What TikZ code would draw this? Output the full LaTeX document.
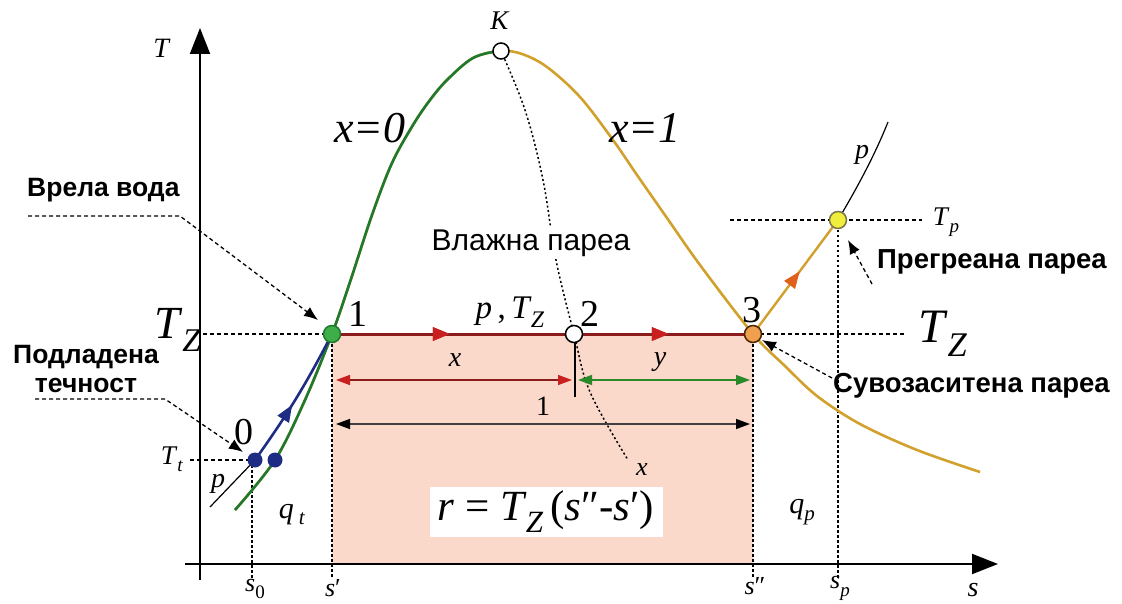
\documentclass[tikz,border=0pt]{standalone}
\usepackage{fontspec}
\setmainfont{Liberation Serif}
\newfontfamily\sansf{Liberation Sans}
\usetikzlibrary{arrows.meta,decorations.markings}
\definecolor{cgreen}{HTML}{1F7A30}
\definecolor{cgold}{HTML}{D2A02C}
\definecolor{cdred}{HTML}{8A1C1C}
\definecolor{cred}{HTML}{C82020}
\definecolor{cshade}{HTML}{FAD8CA}
\definecolor{cblue}{HTML}{1E2C84}
\definecolor{cygreen}{HTML}{2A8A2A}
\definecolor{cptgreen}{HTML}{3DAE48}
\definecolor{cptorange}{HTML}{EFA04E}
\definecolor{cptyellow}{HTML}{F0EE3C}
\definecolor{corange}{HTML}{E0601E}
\definecolor{cgray}{HTML}{404040}
\newcommand{\myfs}[1]{\fontsize{#1}{#1}\selectfont}
\newcommand{\TZ}{\textit{T}\kern-0.02em\raisebox{-0.28em}{\scalebox{0.72}{\textit{Z}}}}
\begin{document}
\begin{tikzpicture}[x=1pt,y=-1pt,
  axisline/.style={line width=2pt,-{Triangle[length=26pt,width=20pt]}},
  dotline/.style={line width=1.6pt,dash pattern=on 2.5pt off 2.5pt},
  dashline/.style={line width=1.4pt,dash pattern=on 4pt off 3pt},
  leader/.style={line width=1.3pt,dash pattern=on 4pt off 3pt,-{Latex[length=14pt,width=11pt]}},
  satline/.style={line width=2.6pt},
  pt/.style={circle,minimum size=17pt,inner sep=0pt,line width=1.5pt},
  lab/.style={inner sep=0pt},
  sanslab/.style={inner sep=0pt,font=\sansf\bfseries\myfs{26.5}},
  midarrow/.style 2 args={postaction={decorate},decoration={markings,
     mark=at position #1 with {\arrow{Triangle[length=17pt,width=13pt,color=#2]}}}},
  dim/.style={line width=1.5pt}
]
\useasboundingbox (0,0) rectangle (1122,604);
% key coordinates
\coordinate (c0) at (255,460);
\coordinate (c0b) at (275,460);
\coordinate (c1) at (332,334);
\coordinate (c2) at (574,334);
\coordinate (c3) at (753,334);
\coordinate (cK) at (501,51);
\coordinate (cP) at (838,220);
\coordinate (base3) at (753,564);
% shaded area
\fill[cshade] (c1) rectangle (base3);
% axes
\draw[axisline] (200,580) -- (200,28);
\draw[axisline] (185,564) -- (998,564);
% guide lines
\draw[dotline] (252,460) -- (252,578);
\draw[dotline] (c1) -- (332,578);
\draw[dotline] (c3) -- (753,578);
\draw[dotline] (cP) -- (838,578);
\draw[dashline] (203,334) -- (c1);
\draw[dashline] (c3) -- (905,334);
\draw[dashline] (190,460) -- (c0);
\draw[dashline] (730,220) -- (cP) -- (922,220);
% dryness line x
\draw[line width=1.5pt,dash pattern=on 2pt off 2.5pt] plot[smooth,tension=0.6] coordinates {(cK) (525,110) (543,180) (556,260) (c2) (590,392) (628,460)};
% saturation dome
\def\domepts{(235,510) (c0b) (305,400) (c1) (350,282) (372,215) (392,163) (413,125) (430,100) (447,80) (473,58) (cK) (522,54) (547,67) (580,97) (613,140) (637,175) (667,218) (700,265) (c3) (785,366) (817,396) (860,424) (917,450) (980,472)}
\draw[satline,cgold] plot[smooth,tension=0.55] coordinates {\domepts};
\begin{scope}
\clip (0,0) rectangle (501,604);
\draw[satline,cgreen] plot[smooth,tension=0.55] coordinates {\domepts};
\end{scope}
% isobar p
\draw[line width=1.2pt] (210,507) -- (c0);
\draw[line width=1.2pt] (cP) .. controls (860,183) and (876,152) .. (888,122);
% process lines
\draw[line width=2.6pt,cblue,midarrow={0.45}{cblue}] (c0) to[bend right=4] (c1);
\draw[line width=3pt,cdred,midarrow={0.28}{cred},midarrow={0.8}{cred}] (c1) -- (c3);
\draw[line width=2.4pt,cgold,midarrow={0.55}{corange}] (c3) -- (cP);
% dimension arrows
\draw[dim,cdred,{Triangle[length=14pt,width=10pt,color=cred]}-{Triangle[length=14pt,width=10pt,color=cred]}] (336,380) -- (572,380);
\draw[dim,cygreen,{Triangle[length=14pt,width=10pt]}-{Triangle[length=14pt,width=10pt]}] (578,380) -- (750,380);
\draw[dim,cgray,{Triangle[length=14pt,width=10pt,color=black]}-{Triangle[length=14pt,width=10pt,color=black]}] (336,424) -- (750,424);
\draw[line width=1.6pt] (575,340) -- (575,397);
% points
\node[pt,draw=black,fill=white,minimum size=16pt] (K) at (cK) {};
\node[pt,draw=cgreen,fill=cptgreen] (P1) at (c1) {};
\node[pt,draw=black,fill=white] (P2) at (c2) {};
\node[pt,draw=black!70!orange,fill=cptorange] (P3) at (c3) {};
\node[pt,draw=black!60!yellow,fill=cptyellow] (PP) at (cP) {};
\node[pt,fill=cblue,minimum size=15pt] (P0) at (c0) {};
\node[pt,fill=cblue,minimum size=15pt] (P0b) at (c0b) {};
% formula box
\node[fill=white,minimum width=233pt,minimum height=50pt,inner sep=0pt,font=\myfs{43}] (rf) at (546,512) {\textit{r} = \TZ\,(\textit{s}″-\textit{s}′)};
% axis labels
\node[lab,font=\myfs{28}] (Tl) at (162,48) {\textit{T}};
\node[lab,font=\myfs{28}] (sl) at (973,590) {\textit{s}};
\node[lab,font=\myfs{26}] (s0l) at (255,589) {\textit{s}\raisebox{-0.3em}{\myfs{19}0}};
\node[lab,font=\myfs{26}] (s1l) at (333,588) {\textit{s}′};
\node[lab,font=\myfs{26}] (s2l) at (755,586) {\textit{s}″};
\node[lab,font=\myfs{26}] (spl) at (840,588) {\textit{s}\raisebox{-0.3em}{\myfs{19}\textit{p}}};
\node[lab,font=\myfs{27}] (Ttl) at (172,459) {\textit{T}\raisebox{-0.25em}{\myfs{19}\textit{t}}};
\node[lab,font=\myfs{27}] (Tpl) at (946,222) {\textit{T}\raisebox{-0.25em}{\myfs{19}\textit{p}}};
\node[lab,font=\myfs{46}] (Tzl) at (178,330) {\TZ};
\node[lab,font=\myfs{48}] (Tzr) at (943,334) {\TZ};
\node[lab,font=\myfs{27}] (Kl) at (500,21) {\textit{K}};
\node[lab,font=\myfs{44}] (x0) at (370,128) {\textit{x=0}};
\node[lab,font=\myfs{44}] (x1) at (645,128) {\textit{x=1}};
\node[lab,font=\myfs{38}] (n1) at (358,314) {1};
\node[lab,font=\myfs{38}] (n2) at (590,314) {2};
\node[lab,font=\myfs{38}] (n3) at (752,310) {3};
\node[lab,font=\myfs{38}] (n0) at (244,432) {0};
\node[lab,font=\myfs{33}] (pTz) at (510,312) {\textit{p}\,,\,\TZ};
\node[lab,font=\myfs{28}] (xl) at (455,360) {\textit{x}};
\node[lab,font=\myfs{28}] (yl) at (660,362) {\textit{y}};
\node[lab,font=\myfs{28}] (ll) at (543,406) {1};
\node[lab,font=\myfs{26}] (xe) at (642,470) {\textit{x}};
\node[lab,font=\myfs{30}] (qt) at (292,515) {\textit{q}\,\raisebox{-0.2em}{\myfs{21}\textit{t}}};
\node[lab,font=\myfs{30}] (qp) at (802,512) {\textit{q}\raisebox{-0.25em}{\myfs{21}\textit{p}}};
\node[lab,font=\myfs{28}] (pl) at (218,484) {\textit{p}};
\node[lab,font=\myfs{28}] (pu) at (862,155) {\textit{p}};
% annotation texts
\node[lab,fill=white,inner sep=3pt,font=\sansf\myfs{30}] (wet) at (531,243) {Влажна пареа};
\node[sanslab,anchor=west] (boil) at (27,190) {Врела вода};
\node[sanslab,align=center] (sub) at (86,369) {Подладена\\[2pt]течност};
\node[sanslab,anchor=west,font=\sansf\bfseries\myfs{27.5}] (sup) at (877,262) {Прегреана пареа};
\node[sanslab,anchor=west,font=\sansf\bfseries\myfs{27.5}] (dry) at (833,386) {Сувозаситена пареа};
% leaders
\coordinate (lb0) at (28,216); \coordinate (lb1) at (180,216); \coordinate (lb2) at (318,320);
\coordinate (ls0) at (35,399); \coordinate (ls1) at (165,399); \coordinate (ls2) at (243,452);
\coordinate (lp0) at (872,284); \coordinate (lp1) at (848,240);
\coordinate (ld0) at (832,378); \coordinate (ld1) at (762,340);
\draw[leader] (lb0) -- (lb1) -- (lb2);
\draw[leader] (ls0) -- (ls1) -- (ls2);
\draw[leader] (lp0) -- (lp1);
\draw[leader] (ld0) -- (ld1);
\end{tikzpicture}
\end{document}
